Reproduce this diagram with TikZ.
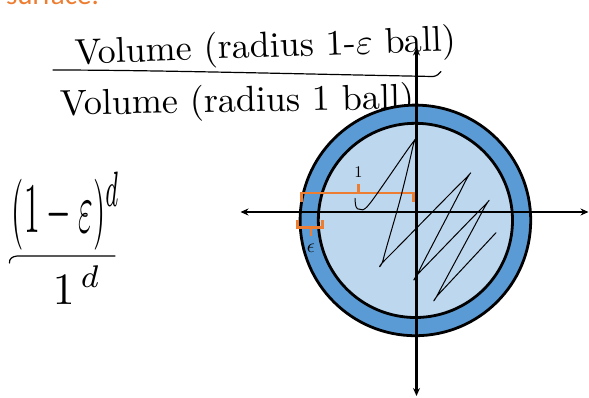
\documentclass[tikz,border=0pt]{standalone}
\usepackage{fontspec}
\newfontfamily\calib{Carlito}
\usetikzlibrary{arrows.meta}
\definecolor{ringblue}{HTML}{5B9BD5}
\definecolor{coreblue}{HTML}{BDD7EE}
\definecolor{brorange}{HTML}{ED7D31}
\begin{document}
\begin{tikzpicture}[x=1pt,y=-1pt,
  axisline/.style={line width=2.2pt},
  ringline/.style={line width=2.8pt, draw=black},
  bracketline/.style={line width=2.6pt, draw=brorange},
  penline/.style={line width=1.2pt, line cap=round, line join=round},
  hand/.style={inner sep=0pt, outer sep=0pt},
  lbl/.style={inner sep=0pt}]
\useasboundingbox (0,0) rectangle (589,397);
\clip (0,0) rectangle (589,397);
% cut-off orange heading
\node[hand, anchor=base west, text=brorange, font=\calib\fontsize{29}{32}\selectfont] (head) at (6,4) {surface.};
% handwritten fraction
\node[hand, anchor=base west, rotate=2] (num) at (75,64) {\resizebox{382pt}{!}{Volume (radius 1-$\varepsilon$ ball)}};
\draw[penline] (53,70) .. controls (150,70) and (300,74) .. (433,76.5) .. controls (437,76) and (439,74) .. (441,71.5);
\node[hand, anchor=base west, rotate=1] (den) at (60,115) {\resizebox{355pt}{!}{Volume (radius 1 ball)}};
% left fraction
\node[hand] (lnum) at (66,211) {\resizebox*{108pt}{78pt}{$(1-\varepsilon)^d$}};
\draw[penline] (9.5,263) .. controls (9,259) and (12,256.5) .. (17,256) -- (115,256);
\node[hand] (lden) at (77,285) {\resizebox*{48pt}{38pt}{$1^{\,d}$}};
% balls
\coordinate (c) at (415.4,220.4);
\fill[ringblue] (c) circle (115.3);
\draw[ringline] (c) circle (115.3);
\draw[ringline, fill=coreblue] (c) circle (97.1);
% axes
\coordinate (xl) at (240.5,212);
\coordinate (xr) at (588.5,212);
\coordinate (yt) at (416.5,47.5);
\coordinate (yb) at (416.5,396);
\draw[axisline, {Stealth[length=8pt,width=7pt]}-{Stealth[length=8pt,width=7pt]}] (xl) -- (xr);
\draw[axisline, {Stealth[length=8pt,width=7pt]}-{Stealth[length=8pt,width=7pt]}] (yt) -- (yb);
% brackets
\draw[bracketline] (301.7,201.5) -- (301.7,193) -- (413.5,193) -- (413.5,201.5);
\draw[bracketline] (358.3,193) -- (358.3,183.5);
\node[lbl] (one) at (358.5,172.5) {\resizebox*{!}{10.5pt}{$1$}};
\draw[bracketline] (297.5,220) -- (297.5,227.7) -- (322.7,227.7) -- (322.7,220);
\draw[bracketline] (311,227.7) -- (311,236);
\node[lbl] (eps) at (311,248) {\resizebox*{!}{8.5pt}{$\epsilon$}};
% scribble
\draw[penline, line width=1pt] plot[smooth, tension=0.55] coordinates {
 (355,198.3) (356,206.7) (360,209.3) (370,203.3) (411.7,144) (412.7,147.3)
 (400,200) (383.3,259.3) (386.7,258.3) (463.3,180.7) (464,184)
 (418.3,272.3) (421.7,270) (483.3,206.7) (482.7,210.7)
 (438.3,293.3) (440.7,292) (496,232.7)};
\end{tikzpicture}
\end{document}
